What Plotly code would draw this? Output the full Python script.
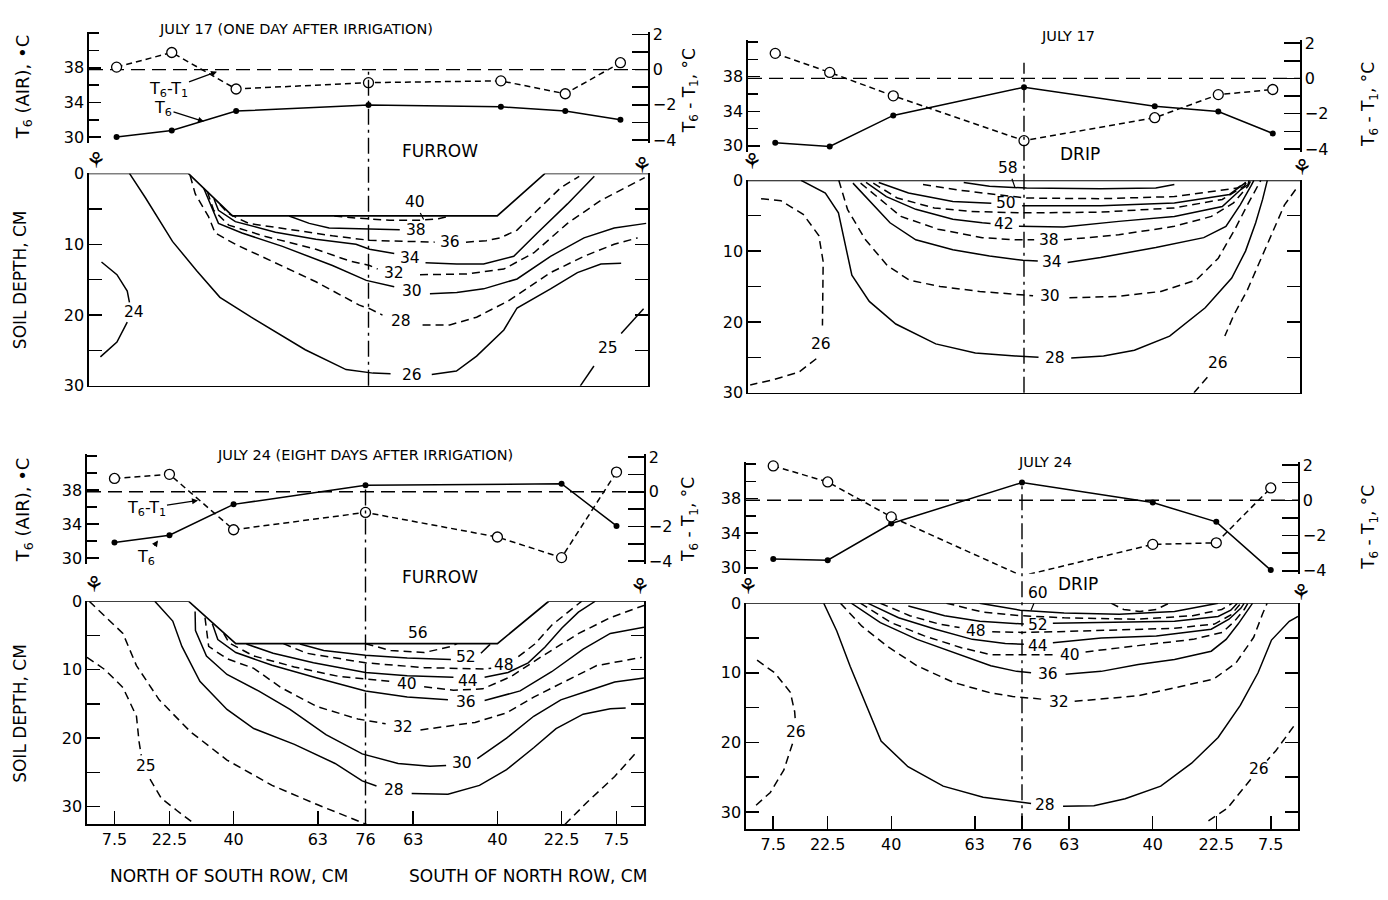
import plotly.graph_objects as go

FONT = "DejaVu Sans"
W, H = 1388, 900


def px(x):
    return x / W


def py(y):
    return 1 - y / H


# ---------------- data ----------------
POS = [7.5, 22.5, 40, 76, 112, 129.5, 144.5]
POS_J24F_T6 = [7.5, 22.5, 40, 76, 129.5, 144.5]
X_TICKS = [7.5, 22.5, 40, 63, 76, 89, 112, 129.5, 144.5]
X_TICKTEXT = ["7.5", "22.5", "40", "63", "76", "63", "40", "22.5", "7.5"]
DEPTH_TICKS = [0, 10, 20, 30]
DEPTH_MINOR = [5, 15, 25]
T6_TICKS = [30, 34, 38]
T6_MINOR = [32, 36, 40, 42]
DT_TICKS = [-4, -2, 0, 2]
DT_MINOR = [-3, -1, 1]

# air temperature T6 (deg C) and T6-T1 (deg C)
J17F_T6 = [30.0, 30.75, 33.0, 33.7, 33.5, 33.0, 32.0]
J17F_DT = [0.14, 0.97, -1.10, -0.74, -0.64, -1.37, 0.39]
J17D_T6 = [30.37, 29.93, 33.52, 36.78, 34.59, 33.96, 31.44]
J17D_DT = [1.42, 0.34, -0.99, -3.53, -2.23, -0.92, -0.63]
J24F_T6 = [31.83, 32.69, 36.32, 38.56, 38.75, 33.78]
J24F_DT = [0.77, 1.01, -2.19, -1.19, -2.61, -3.80, 1.14]
J24D_T6 = [31.0, 30.88, 35.12, 39.85, 37.54, 35.31, 29.73]
J24D_DT = [1.95, 1.04, -0.94, -4.29, -2.50, -2.41, 0.70]

# soil surface profiles (position cm, depth cm)
J17F_SURF_X = [0, 27, 39, 111, 124, 152]
J17F_SURF_D = [0, 0, 6, 6, 0, 0]
J24F_SURF_X = [0, 27.7, 40.6, 112, 126, 152]
J24F_SURF_D = [0, 0, 6.2, 6.2, 0, 0]
DRIP_SURF_X = [0, 152]
DRIP_SURF_D = [0, 0]

# isotherms: name -> (positions cm, depths cm)
J17F_ISO = {
    "24": ([3.4, 7.6, 10.4, 11.0, None, 10.4, 7.6, 3.1],
           [12.5, 14.3, 16.6, 18.2, None, 21.0, 23.8, 25.9]),
    "25": ([133.6, 137.3, None, 144.7, 150.8], [30.0, 27.2, None, 22.6, 19.1]),
    "26": ([11.0, 15.3, 22.7, 29.4, 35.6, 44.1, 58.8, 69.9, 77.2, 82.0, None, 93.2, 99.9, 105.4, 112.8, 116.4, 125.5, 132.8, 139.2, 144.7],
           [0, 3.4, 9.6, 13.8, 17.5, 20.3, 24.9, 27.7, 28.2, 28.3, None, 28.4, 27.9, 25.8, 22.1, 19.0, 16.3, 14.0, 12.8, 12.7]),
    "28": ([27.5, 28.9, 32.5, 34.3, 39.8, 50.7, 61.7, 73.5, 76.3, 79.8, None, 90.7, 98.1, 105.4, 114.0, 125.5, 134.6, 142.8, 149.2],
           [0.3, 2.9, 6.1, 8.4, 10.0, 12.6, 15.3, 18.6, 19.1, 20.0, None, 21.4, 21.4, 20.3, 18.0, 14.0, 11.7, 10.0, 9.1]),
    "30": ([31.2, 32.5, 35.2, 41.6, 52.6, 66.2, 75.4, 83.0, None, 92.7, 100.0, 107.3, 116.4, 125.5, 134.6, 142.8, 151.5],
           [2.1, 3.8, 7.05, 8.4, 10.3, 13.0, 15.1, 16.0, None, 17.0, 16.8, 16.3, 14.9, 11.7, 9.1, 7.7, 7.05]),
    "32": ([32.2, 33.9, 38.0, 48.0, 61.7, 70.8, 76.3, 78.5, None, 90.0, 102.7, 112.8, 121.0, 130.1, 139.2, 151.1],
           [2.6, 5.2, 7.3, 8.9, 10.7, 12.35, 13.0, 13.5, None, 14.3, 14.2, 13.5, 11.2, 7.05, 3.8, 0.6]),
    "34": ([34.0, 35.2, 39.8, 50.7, 61.7, 72.6, 76.3, 83.0, None, 91.5, 100.0, 107.3, 115.5, 121.9, 130.1, 137.4],
           [3.6, 5.2, 6.8, 8.3, 9.3, 10.0, 10.7, 11.3, None, 12.6, 12.8, 12.8, 11.7, 8.4, 4.3, 0.4]),
    "36": ([35.6, 38.0, 43.4, 55.3, 66.2, 76.3, 89.0, 94.0, None, 102.5, 108.0, 111.8, 116.4, 121.9, 128.3, 133.3],
           [4.4, 5.7, 7.05, 8.0, 8.8, 9.45, 9.7, 9.7, None, 9.7, 9.5, 9.1, 8.0, 5.2, 2.0, 0.4]),
    "38": ([54.4, 59.9, 65.3, 76.3, 84.5], [6.0, 7.05, 7.7, 7.9, 7.95]),
    "40": ([66.7, 72.6, 81.7, 90.0, 95.0, 98.2], [6.0, 6.3, 6.6, 6.6, 6.4, 6.0]),
}
J17F_DASHED = {"28", "32", "36", "40"}
J17F_LABELS = [("24", 12.3, 19.6), ("25", 141.0, 24.7), ("26", 87.7, 28.4), ("28", 84.8, 20.9),
               ("30", 87.7, 16.6), ("32", 83.0, 14.0), ("34", 87.2, 11.9), ("36", 98.2, 9.7),
               ("38", 88.8, 8.0)]
J17F_LEADERS = [("40", 88.6, 4.1, 91.0, 6.5)]

J17D_ISO = {
    "26a": ([3.6, 9.1, 15.2, 19.5, 20.7, 20.7, 20.5, None, 18.8, 14.0, 6.7, 0.6],
            [2.6, 2.9, 4.8, 7.8, 11.5, 16.2, 20.5, None, 25.2, 27.1, 28.2, 28.9]),
    "26b": ([150.8, 147.7, 144.3, 141.0, 137.5, 133.8, 131.3, None, 126.5, 122.8],
            [1.3, 3.5, 7.5, 11.5, 15.5, 19.0, 22.0, None, 27.8, 30.0]),
    "28": ([14.6, 21.3, 24.9, 26.8, 28.6, 33.4, 40.7, 51.7, 62.6, 73.6, 80.0, None, 89.0, 97.9, 106.4, 116.1, 125.9, 133.2, 137.0, 139.8, 141.7, 143.0],
           [0, 1.8, 4.6, 9.2, 13.4, 17.1, 20.3, 23.1, 24.4, 24.8, 25.0, None, 25.1, 24.8, 24.0, 22.0, 18.0, 13.8, 10.0, 6.0, 2.7, 0]),
    "30": ([25.0, 27.4, 32.2, 38.3, 44.4, 52.9, 63.8, 72.4, 78.5, None, 88.5, 101.5, 113.7, 123.4, 129.5, 134.0, 137.5, 140.0, 141.2],
           [0, 4.1, 8.3, 12.0, 14.1, 15.0, 15.7, 16.1, 16.3, None, 16.6, 16.4, 15.7, 14.1, 11.0, 7.0, 3.5, 1.2, 0]),
    "34": ([28.9, 34.0, 39.1, 46.2, 56.4, 66.5, 75.7, 79.8, None, 88.0, 97.1, 112.3, 125.5, 131.6, 135.5, 138.5, 139.3],
           [0.4, 3.2, 6.0, 8.4, 9.8, 10.7, 11.3, 11.4, None, 11.6, 10.9, 9.5, 8.1, 6.5, 3.5, 0.8, 0]),
    "38": ([31.0, 36.0, 42.1, 52.3, 64.5, 73.7, 78.8, None, 87.0, 102.1, 117.4, 127.6, 133.7, 137.7, 138.5],
           [0.4, 2.5, 5.1, 6.9, 8.1, 8.4, 8.4, None, 8.4, 7.7, 6.5, 5.1, 3.2, 0.8, 0]),
    "42": ([32.5, 38.1, 46.2, 56.4, 64.5, 66.8, None, 74.6, 86.9, 102.1, 117.4, 130.6, 135.7, 137.7, 138.0],
           [0.3, 2.3, 4.1, 5.5, 6.0, 6.1, None, 6.5, 6.6, 5.8, 5.1, 3.7, 1.3, 0.6, 0]),
    "46": ([34.5, 41.1, 51.3, 61.5, 75.7, 97.1, 117.4, 130.6, 136.7, 137.5],
           [0.4, 2.5, 3.9, 4.4, 4.6, 4.5, 3.9, 2.7, 0.8, 0]),
    "50": ([36.0, 44.2, 56.4, 65.5, 67.0, None, 75.5, 97.1, 117.4, 132.6, 137.1],
           [0.3, 1.8, 3.0, 3.2, 3.25, None, 3.6, 3.6, 3.2, 2.0, 0.3]),
    "54": ([48.2, 58.4, 66.5, 76.7, 97.1, 117.4, 134.7, 137.0],
           [0.6, 1.4, 1.9, 2.5, 2.6, 2.3, 1.1, 0.3]),
    "58": ([59.4, 66.5, 76.7, 97.1, 112.3, 117.4], [0.3, 0.85, 1.1, 1.2, 1.1, 0.6]),
}
J17D_DASHED = {"26a", "26b", "30", "38", "46", "54"}
J17D_LABELS = [("26", 20.1, 23.1), ("26", 129.5, 25.8), ("28", 84.5, 25.1), ("30", 83.2, 16.4),
               ("34", 83.8, 11.5), ("38", 82.8, 8.4), ("42", 70.6, 6.2), ("50", 71.1, 3.2)]
J17D_LEADERS = [("58", 71.7, -1.7, 73.5, 1.0)]

J24F_ISO = {
    "25": ([0, 4.9, 9.8, 13.5, 14.2, 14.8, None, 17.2, 20.3, 24.6, 29.5],
           [8.2, 10.0, 12.6, 16.8, 20.5, 22.5, None, 26.0, 28.8, 30.6, 32.6]),
    "26": ([0.6, 6.2, 9.8, 13.5, 19.7, 28.3, 38.2, 50.5, 62.8, 76.3],
           [0, 2.9, 4.7, 9.4, 14.4, 19.1, 23.2, 26.9, 29.7, 32.6]),
    "26b": ([130.4, 136.6, 144.0, 150.2], [32.6, 29.3, 25.6, 21.9]),
    "28": ([18.5, 23.4, 25.9, 30.8, 38.2, 45.5, 56.6, 67.7, 75.1, 79.0, None, 88.6, 98.5, 107.1, 114.5, 121.9, 128.0, 135.4, 142.8, 147.0],
           [0, 2.9, 6.6, 11.7, 15.8, 18.6, 20.9, 23.7, 26.25, 27.0, None, 28.1, 28.2, 26.9, 24.6, 21.4, 18.6, 16.5, 15.7, 15.6]),
    "30": ([29.5, 29.6, 32.6, 38.2, 46.8, 55.4, 65.2, 75.1, 84.9, 93.6, 98.0, None, 106.5, 114.5, 121.9, 129.3, 136.6, 144.0, 152.0],
           [1.5, 4.3, 8.0, 10.7, 13.1, 15.8, 19.5, 22.3, 23.7, 24.1, 24.0, None, 23.0, 20.0, 16.8, 14.4, 13.1, 11.8, 11.2]),
    "32": ([32.2, 33.2, 38.2, 45.5, 52.9, 62.8, 73.9, 81.5, None, 91.0, 105.9, 114.5, 121.9, 130.5, 139.1, 151.4],
           [2.4, 6.6, 8.4, 9.8, 12.6, 15.4, 17.2, 17.9, None, 18.8, 17.7, 16.3, 14.0, 11.7, 9.4, 8.2]),
    "36": ([34.2, 35.7, 40.6, 50.5, 62.8, 76.0, 87.4, 98.5, None, 108.5, 118.2, 126.8, 135.4, 142.8, 152.0],
           [3.3, 5.6, 7.5, 9.35, 11.2, 13.1, 14.0, 14.4, None, 14.5, 13.1, 10.3, 7.0, 4.7, 3.8]),
    "40": ([37.3, 38.8, 45.5, 56.6, 68.9, 77.6, 83.0, None, 92.0, 100.0, 108.0, 115.7, 124.3, 134.2, 142.8, 152.0],
           [4.7, 6.1, 8.0, 9.6, 11.0, 11.4, 11.7, None, 12.5, 13.0, 12.8, 11.0, 8.0, 4.7, 2.4, 0.6]),
    "44": ([43.5, 50.8, 61.8, 76.0, 87.4, 96.6, 100.0, None, 108.5, 114.9, 120.4, 125.0, 129.6, 134.1, 138.7],
           [6.25, 7.6, 9.0, 10.4, 10.9, 11.0, 11.1, None, 11.1, 10.4, 9.0, 6.7, 3.9, 1.6, 0.0]),
    "48": ([53.6, 60.0, 76.0, 92.0, 108.5, 110.3, None, 117.7, 122.2, 126.8, 131.4, 135.0],
           [6.2, 7.6, 9.0, 9.7, 9.9, 9.8, None, 8.1, 6.25, 3.5, 1.6, 0.0]),
    "52": ([58.1, 64.6, 76.0, 87.4, 99.3, None, 107.5, 110.0], [6.25, 7.2, 7.9, 8.3, 8.5, None, 7.6, 6.3]),
    "56": ([76.0, 82.9, 92.0, 99.4, 101.0], [6.2, 7.2, 7.5, 6.6, 6.2]),
}
J24F_DASHED = {"25", "26", "26b", "32", "40", "48", "56"}
J24F_LABELS = [("25", 16.0, 24.1), ("28", 83.7, 27.6), ("30", 102.2, 23.7), ("32", 86.2, 18.4),
               ("36", 103.4, 14.7), ("40", 87.4, 12.1), ("44", 104.0, 11.6), ("48", 113.9, 9.35),
               ("52", 103.4, 8.2), ("56", 90.2, 4.7)]
J24F_LEADERS = []

J24D_ISO = {
    "26a": ([3.05, 7.9, 12.2, 13.4, 13.6, None, 12.8, 10.4, 6.7, 1.8],
            [8.2, 10.0, 12.8, 15.6, 17.0, None, 20.2, 24.0, 27.2, 29.5]),
    "26b": ([150.8, 145.9, 143.5, None, 139.0, 137.4, 132.5, 126.4],
            [17.7, 21.2, 22.6, None, 25.3, 26.3, 29.5, 31.6]),
    "28": ([21.4, 25.0, 28.7, 32.4, 37.2, 44.6, 54.3, 65.3, 76.3, 78.5, None, 87.3, 95.8, 104.4, 114.2, 122.7, 130.0, 136.1, 141.0, 144.7, 149.6, 152.0],
           [0, 4.0, 9.1, 13.7, 19.8, 23.5, 26.3, 27.9, 28.6, 28.8, None, 29.2, 29.1, 28.1, 26.3, 23.0, 19.3, 14.7, 10.0, 5.3, 2.6, 1.9]),
    "32": ([26.0, 31.9, 38.9, 47.1, 57.2, 67.4, 73.4, 81.5, None, 90.5, 108.1, 120.3, 128.8, 134.9, 139.8, 142.2, 143.5],
           [0, 3.3, 6.2, 9.0, 11.4, 12.9, 13.4, 13.8, None, 14.1, 13.3, 11.9, 10.9, 8.6, 4.9, 1.6, 0]),
    "36": ([29.0, 37.0, 47.1, 57.2, 67.4, 74.5, 78.5, None, 88.0, 97.8, 108.0, 118.0, 128.1, 132.2, 135.5, 138.3, 139.5],
           [0, 2.8, 5.2, 7.1, 9.0, 9.8, 10.0, None, 10.2, 9.8, 8.8, 8.1, 6.9, 5.2, 3.0, 1.0, 0]),
    "40": ([31.5, 40.0, 49.1, 59.3, 67.4, 74.5, 84.5, None, 93.5, 97.8, 108.0, 123.1, 131.2, 134.5, 137.2, 138.2],
           [0, 2.8, 4.7, 6.4, 7.4, 7.4, 7.4, None, 7.0, 6.7, 6.1, 5.2, 4.2, 2.6, 0.9, 0]),
    "44": ([33.5, 42.0, 52.2, 62.3, 71.4, 76.5, None, 84.5, 97.8, 113.0, 128.1, 133.0, 136.3, 137.2],
           [0, 2.1, 3.75, 5.2, 5.8, 5.9, None, 5.7, 5.0, 4.7, 3.75, 2.3, 0.7, 0]),
    "48": ([37.0, 45.1, 53.2, 58.8, None, 67.8, 76.0, 86.0, 97.8, 118.0, 129.0, 133.5, 136.3],
           [0, 1.8, 3.0, 3.5, None, 4.1, 4.2, 4.1, 3.9, 3.6, 3.0, 1.7, 0]),
    "52": ([44.7, 54.7, 64.4, 74.0, 76.5, None, 84.5, 97.8, 118.0, 130.0, 133.5, 135.3],
           [0.4, 1.8, 2.6, 3.0, 3.0, None, 2.9, 2.8, 2.6, 1.9, 1.0, 0]),
    "56": ([55.2, 65.3, 75.5, 87.6, 108.0, 123.0, 131.0, 134.0], [0, 1.3, 1.8, 2.1, 2.3, 1.8, 0.9, 0]),
    "60": ([64.3, 75.5, 87.6, 102.8, 118.0, 130.0], [0, 1.0, 1.4, 1.6, 1.2, 0]),
    "64": ([100.5, 104.0, 108.5, 113.0, 116.5], [0, 0.9, 1.2, 0.9, 0]),
}
J24D_DASHED = {"26a", "26b", "32", "40", "48", "56", "64"}
J24D_LABELS = [("26", 13.8, 18.5), ("26", 141.3, 23.9), ("28", 82.4, 29.0), ("32", 86.1, 14.2),
               ("36", 83.1, 10.2), ("40", 89.1, 7.4), ("44", 80.5, 6.2), ("48", 63.3, 4.0),
               ("52", 80.5, 3.2), ("64", 108.4, -1.4)]
J24D_LEADERS = [("60", 80.5, -1.5, 78.5, 1.0)]

# ---------------- layout of panels (pixel frames) ----------------
PANELS = [
    dict(t6x=POS, t6=J17F_T6, dt=J17F_DT, sx=J17F_SURF_X, sd=J17F_SURF_D, iso=J17F_ISO,
         dashed=J17F_DASHED, labels=J17F_LABELS, leaders=J17F_LEADERS,
         xdom=(89, 648), top=(23, 137), cont=(168, 385), dmax=30, bottom=False, vtop=63),
    dict(t6x=POS, t6=J17D_T6, dt=J17D_DT, sx=DRIP_SURF_X, sd=DRIP_SURF_D, iso=J17D_ISO,
         dashed=J17D_DASHED, labels=J17D_LABELS, leaders=J17D_LEADERS,
         xdom=(748, 1300), top=(32, 146), cont=(175, 392), dmax=30, bottom=False, vtop=55),
    dict(t6x=POS_J24F_T6, t6=J24F_T6, dt=J24F_DT, sx=J24F_SURF_X, sd=J24F_SURF_D, iso=J24F_ISO,
         dashed=J24F_DASHED, labels=J24F_LABELS, leaders=J24F_LEADERS,
         xdom=(87, 644), top=(455, 567), cont=(605, 833), dmax=32.6, bottom=True, vtop=487),
    dict(t6x=POS, t6=J24D_T6, dt=J24D_DT, sx=DRIP_SURF_X, sd=DRIP_SURF_D, iso=J24D_ISO,
         dashed=J24D_DASHED, labels=J24D_LABELS, leaders=J24D_LEADERS,
         xdom=(746, 1298), top=(463, 577), cont=(607, 838), dmax=32.5, bottom=True, vtop=483),
]

BLACK = "black"
LW = 1.5
DASH = "8px,5px"
TICKFONT = dict(family=FONT, size=16, color=BLACK)


def akey(a, n):
    return f"{a}axis" + ("" if n == 1 else str(n))


def aref(a, n):
    return a + ("" if n == 1 else str(n))


def minor(vals, length):
    return dict(tickvals=vals, ticks="inside", ticklen=length, tickwidth=1.5,
                tickcolor=BLACK, showgrid=False)


fig = go.Figure()
layout = {}
shapes = []
annotations = []

for i, p in enumerate(PANELS):
    xt, xc = 2 * i + 1, 2 * i + 2
    yl, yr, yc = 3 * i + 1, 3 * i + 2, 3 * i + 3
    xdom = [px(p["xdom"][0]), px(p["xdom"][1])]
    axis_common = dict(showline=True, linecolor=BLACK, linewidth=1.6, ticks="inside",
                       tickcolor=BLACK, tickwidth=1.5, showgrid=False, zeroline=False,
                       tickfont=TICKFONT, fixedrange=True)
    layout[akey("x", xt)] = dict(domain=xdom, range=[0, 152], visible=False,
                                 anchor=aref("y", yl), fixedrange=True)
    layout[akey("y", yl)] = dict(domain=[py(p["top"][1]), py(p["top"][0])], range=[29.3, 42.2],
                                 anchor=aref("x", xt), tickvals=T6_TICKS,
                                 ticklen=12, minor=minor(T6_MINOR, 10), **axis_common)
    layout[akey("y", yr)] = dict(overlaying=aref("y", yl), side="right", anchor=aref("x", xt),
                                 range=[-4.17, 2.16], tickvals=DT_TICKS,
                                 ticklen=16, minor=minor(DT_MINOR, 16), **axis_common)
    xc_ax = dict(domain=xdom, range=[0, 152], anchor=aref("y", yc), showline=True,
                 linecolor=BLACK, linewidth=1.6, showgrid=False, zeroline=False,
                 fixedrange=True, tickfont=TICKFONT)
    if p["bottom"]:
        xc_ax.update(ticks="inside", ticklen=13, tickwidth=1.5, tickcolor=BLACK,
                     tickvals=X_TICKS, ticktext=X_TICKTEXT, showticklabels=True)
    else:
        xc_ax.update(ticks="", showticklabels=False)
    layout[akey("x", xc)] = xc_ax
    layout[akey("y", yc)] = dict(domain=[py(p["cont"][1]), py(p["cont"][0])],
                                 range=[p["dmax"], 0], anchor=aref("x", xc), mirror="ticks",
                                 tickvals=DEPTH_TICKS, ticklen=13,
                                 minor=minor(DEPTH_MINOR, 13), **axis_common)

    # air temperature traces
    fig.add_trace(go.Scatter(x=p["t6x"], y=p["t6"], xaxis=aref("x", xt), yaxis=aref("y", yl),
                             mode="lines+markers", line=dict(color=BLACK, width=LW),
                             marker=dict(size=6, color=BLACK), cliponaxis=False,
                             showlegend=False, hoverinfo="skip"))
    fig.add_trace(go.Scatter(x=POS, y=p["dt"], xaxis=aref("x", xt), yaxis=aref("y", yr),
                             mode="lines+markers", line=dict(color=BLACK, width=LW, dash="6px,4px"),
                             marker=dict(size=10, color="white", line=dict(color=BLACK, width=1.3)),
                             cliponaxis=False, showlegend=False, hoverinfo="skip"))
    # zero reference line of T6-T1
    shapes.append(dict(type="line", xref=aref("x", xt), yref=aref("y", yr), x0=0, x1=152,
                       y0=0, y1=0, layer="below",
                       line=dict(color=BLACK, width=1.4, dash="14px,7px")))
    # centre line of the bed
    shapes.append(dict(type="line", xref=aref("x", xc), yref="paper", x0=76, x1=76,
                       y0=py(p["cont"][1]), y1=py(p["vtop"]),
                       line=dict(color=BLACK, width=1.4, dash="16px,5px,3px,5px")))

    # soil surface
    fig.add_trace(go.Scatter(x=p["sx"], y=p["sd"], xaxis=aref("x", xc), yaxis=aref("y", yc),
                             mode="lines", line=dict(color=BLACK, width=1.7),
                             showlegend=False, hoverinfo="skip", cliponaxis=False))
    # isotherms
    for name, (xs, ds) in p["iso"].items():
        fig.add_trace(go.Scatter(x=xs, y=ds, xaxis=aref("x", xc), yaxis=aref("y", yc),
                                 mode="lines",
                                 line=dict(color=BLACK, width=LW,
                                           dash=DASH if name in p["dashed"] else "solid"),
                                 showlegend=False, hoverinfo="skip"))
    for text, lx, ld in p["labels"]:
        annotations.append(dict(text=text, x=lx, y=ld, xref=aref("x", xc), yref=aref("y", yc),
                                showarrow=False, font=dict(family=FONT, size=15.5, color=BLACK)))
    for text, lx, ld, hx, hd in p["leaders"]:
        annotations.append(dict(text=text, x=hx, y=hd, ax=lx, ay=ld, xref=aref("x", xc),
                                yref=aref("y", yc), axref=aref("x", xc), ayref=aref("y", yc),
                                showarrow=True, arrowhead=0, arrowwidth=1.2, arrowcolor=BLACK,
                                font=dict(family=FONT, size=15.5, color=BLACK)))


def ptext(text, x, y, size=14, angle=0, **kw):
    d = dict(text=text, x=px(x), y=py(y), xref="paper", yref="paper", showarrow=False,
             textangle=angle, font=dict(family=FONT, size=size, color=BLACK),
             xanchor="center", yanchor="middle")
    d.update(kw)
    annotations.append(d)


# titles
ptext("JULY 17 (ONE DAY AFTER IRRIGATION)", 296, 20, size=14.5)
ptext("JULY 17", 1068, 28, size=14.5)
ptext("JULY 24 (EIGHT DAYS AFTER IRRIGATION)", 365, 456, size=14.5)
ptext("JULY 24", 1045, 463, size=14.5)
ptext("FURROW", 440, 145, size=17)
ptext("FURROW", 440, 580, size=17)
ptext("DRIP", 1080, 148, size=17)
ptext("DRIP", 1078, 587, size=17)

# axis titles
for yy in (80, 512):
    ptext("T<sub>6</sub> (AIR), •C", 24, yy, size=18, angle=-90)
for yy in (277, 720):
    ptext("SOIL DEPTH, CM", 20, yy, size=17, angle=-90)
for xx, yy in ((690, 84), (1370, 98), (690, 522), (1370, 530)):
    ptext("T<sub>6</sub> - T<sub>1</sub>, °C", xx, yy, size=17, angle=-90)
ptext("NORTH OF SOUTH ROW, CM", 229, 886, size=17)
ptext("SOUTH OF NORTH ROW, CM", 528, 886, size=17)

# plant symbols at the rows
for xx, yy in ((96, 155), (642, 160), (752, 156), (1302, 162),
               (94, 588), (640, 590), (748, 590), (1301, 596)):
    ptext("⚘", xx, yy, size=22)


# series call-outs with arrows
def callout(text, tipx, tipy, tx, ty):
    annotations.append(dict(text=text, x=px(tipx), y=py(tipy), xref="paper", yref="paper",
                            ax=tx - tipx, ay=ty - tipy, showarrow=True, arrowhead=2,
                            arrowsize=1, arrowwidth=1.2, arrowcolor=BLACK,
                            font=dict(family=FONT, size=16, color=BLACK)))


callout("T<sub>6</sub>-T<sub>1</sub>", 217, 64, 168, 82)
callout("T<sub>6</sub>", 204, 115, 163, 102)
callout("T<sub>6</sub>-T<sub>1</sub>", 198, 502, 146, 510)
callout("T<sub>6</sub>", 158, 543, 146, 560)

fig.update_layout(
    width=W, height=H,
    margin=dict(l=0, r=0, t=0, b=0),
    paper_bgcolor="white", plot_bgcolor="white",
    font=dict(family=FONT, size=15, color=BLACK),
    showlegend=False,
    shapes=shapes,
    annotations=annotations,
    **layout,
)

fig.write_html("out.html",
               config={"displayModeBar": False, "staticPlot": True},
               post_script="document.body.style.margin='0';document.body.style.overflow='hidden';")
